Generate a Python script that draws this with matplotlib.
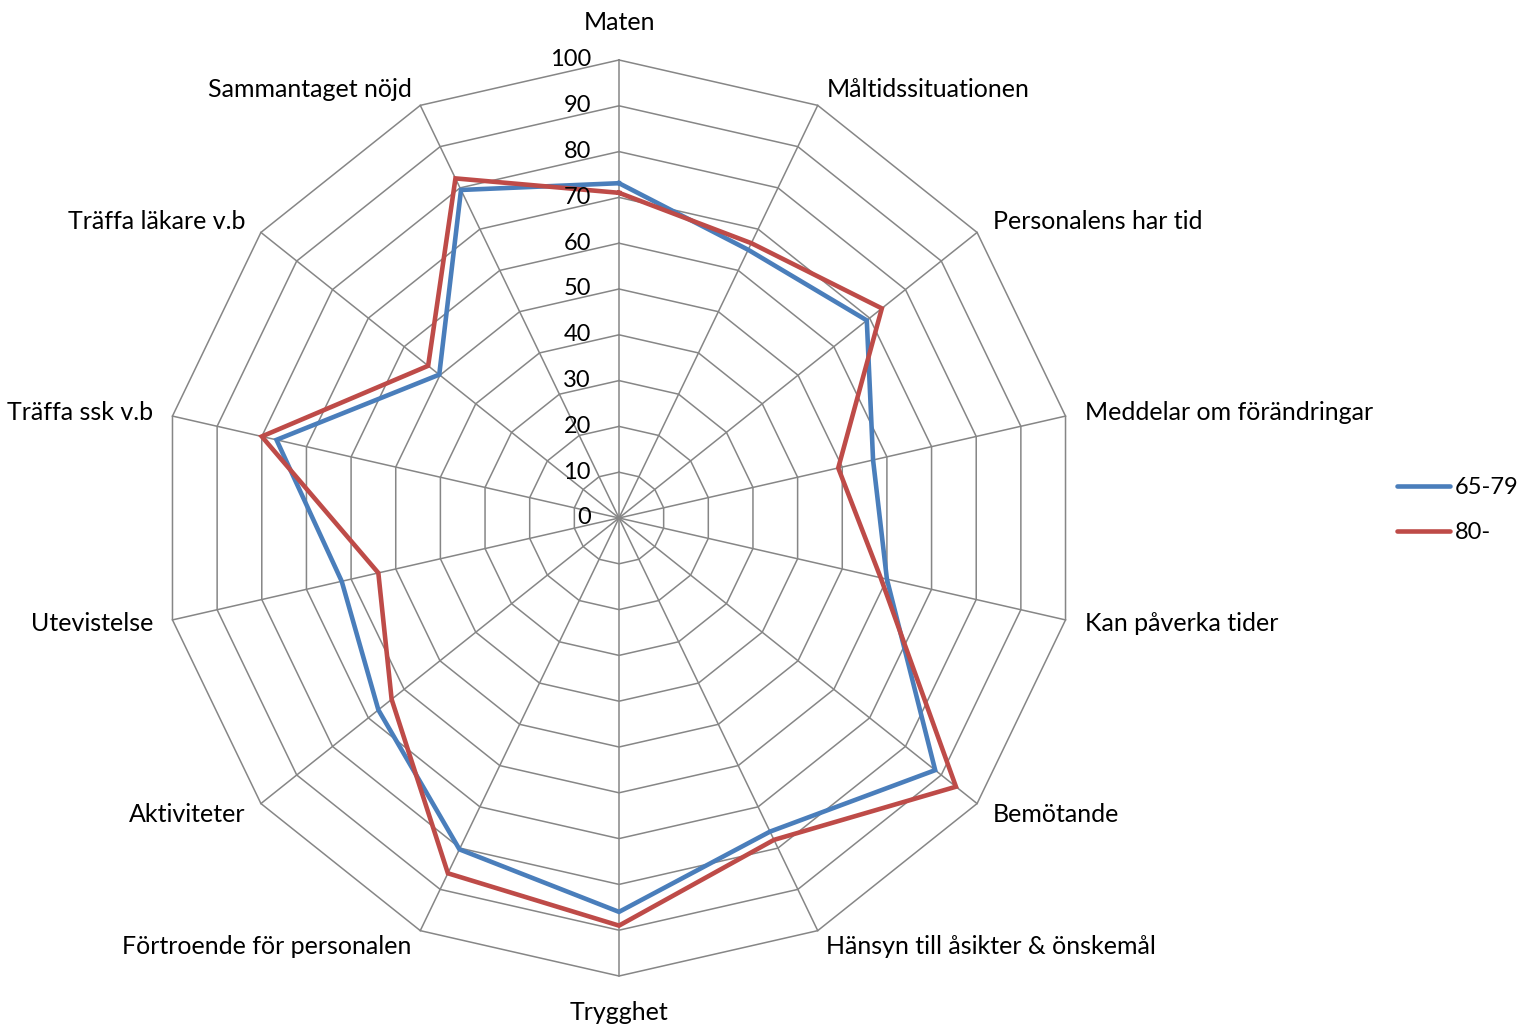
import numpy as np
import matplotlib
matplotlib.use("Agg")
import matplotlib.pyplot as plt

categories = ["Maten", "Måltidssituationen", "Personalens har tid",
              "Meddelar om förändringar", "Kan påverka tider", "Bemötande",
              "Hänsyn till åsikter & önskemål", "Trygghet",
              "Förtroende för personalen", "Aktiviteter", "Utevistelse",
              "Träffa ssk v.b", "Träffa läkare v.b", "Sammantaget nöjd"]
series_names = ["65-79", "80-"]
values_6579 = [73.1, 65.0, 69.2, 56.9, 60.0, 88.3, 76.0, 86.0, 80.3, 67.2, 62.1, 76.7, 50.2, 79.5]
values_80 = [71.0, 66.6, 73.4, 49.1, 58.6, 94.1, 78.0, 89.0, 86.1, 63.5, 53.9, 80.0, 53.3, 82.3]
r_ticks = [0, 10, 20, 30, 40, 50, 60, 70, 80, 90, 100]
colors = ["#4A7EBB", "#BE4B48"]

plt.rcParams['font.family'] = ['Lato', 'DejaVu Sans']

W, H = 1519, 1028
fig = plt.figure(figsize=(W / 100, H / 100), dpi=100)
cx, cy, R = 619, 518, 458
ax = fig.add_axes([(cx - R) / W, (H - cy - R) / H, 2 * R / W, 2 * R / H], projection='polar')
ax.set_theta_zero_location('N')
ax.set_theta_direction(-1)
ax.set_ylim(0, 100)
ax.grid(False)
ax.spines['polar'].set_visible(False)
ax.set_xticks([])
ax.set_yticks([])
ax.patch.set_alpha(0)

n = len(categories)
theta = np.arange(n) * 2 * np.pi / n
theta_closed = np.append(theta, theta[0])
grid_col = "#868686"

for r in r_ticks[1:]:
    ax.plot(theta_closed, [r] * (n + 1), color=grid_col, lw=1.1, zorder=1, clip_on=False)
for t in theta:
    ax.plot([t, t], [0, 100], color=grid_col, lw=1.1, zorder=1, clip_on=False)

for vals, c, name in zip([values_6579, values_80], colors, series_names):
    ax.plot(theta_closed, list(vals) + [vals[0]], color=c, lw=3.3, label=name,
            zorder=3, solid_joinstyle='miter', clip_on=False)

for r in r_ticks:
    ax.annotate(str(r), xy=(0, r), xytext=(-28 * 0.72, 0), textcoords='offset points',
                ha='right', va='center', fontsize=17, color='black')

for t, lab in zip(theta, categories):
    s, c = np.sin(t), np.cos(t)
    if abs(s) < 1e-6:
        ha = 'center'
        off = (0, 37 * np.sign(c))
    else:
        ha = 'left' if s > 0 else 'right'
        off = (20 * s, 18 * c)
    ax.annotate(lab, xy=(t, 100), xytext=(off[0] * 0.72, off[1] * 0.72),
                textcoords='offset points', ha=ha, va='center', fontsize=18,
                annotation_clip=False)

leg = fig.legend(loc='center left', bbox_to_anchor=(1397 / W, 1 - 510 / H), frameon=False,
                 fontsize=17, handlelength=2.25, handletextpad=0.2, labelspacing=1.0,
                 borderpad=0, borderaxespad=0)
for lh in leg.get_lines():
    lh.set_solid_capstyle('round')
    lh.set_linewidth(3.3)

fig.savefig("out.png", dpi=100)
